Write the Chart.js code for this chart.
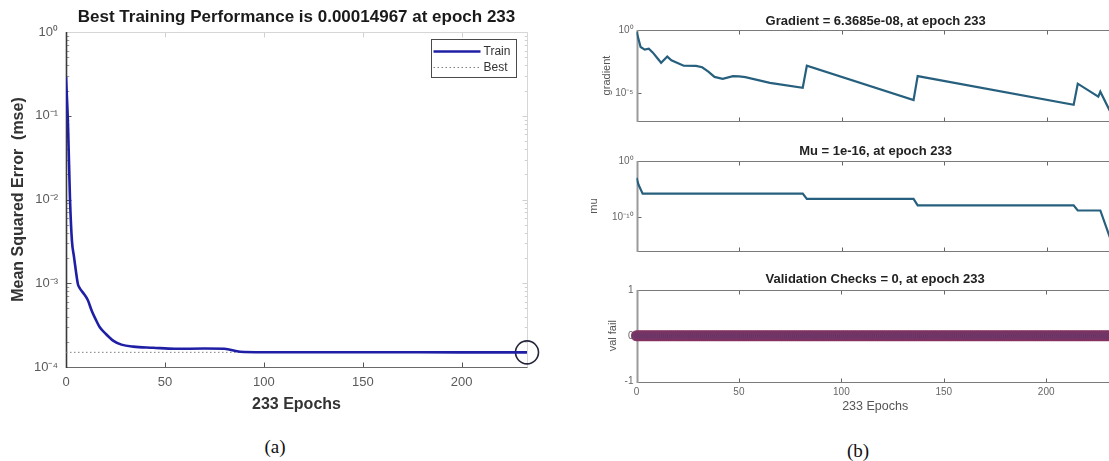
<!DOCTYPE html>
<html>
<head>
<meta charset="utf-8">
<script src="https://cdn.jsdelivr.net/npm/chart.js@4.4.1/dist/chart.umd.min.js"></script>
<style>
html,body{margin:0;padding:0;width:1109px;height:461px;overflow:hidden;background:#fff;}
#wrap{position:relative;width:1109px;height:461px;overflow:hidden;background:#fff;}
canvas{position:absolute;}
.cap{position:absolute;font-family:"Liberation Serif","Times New Roman",serif;font-size:19px;color:#111;transform:translate(-50%,-50%);white-space:nowrap;}
</style>
</head>
<body>
<div id="wrap">
<canvas id="perf" width="545" height="425" style="left:0;top:0"></canvas>
<canvas id="grad" width="560" height="130" style="left:560px;top:0"></canvas>
<canvas id="mu" width="560" height="130" style="left:560px;top:130px"></canvas>
<canvas id="val" width="560" height="165" style="left:560px;top:260px"></canvas>
<div class="cap" style="left:275px;top:447px">(a)</div>
<div class="cap" style="left:858px;top:451px">(b)</div>
</div>
<script>
// ---------------- data ----------------
const totalEpochs = 233;
const epochTicks = [0, 50, 100, 150, 200];

// (a) training performance
const mseEpochs = [0,1,2,3,4,5,6,7,9,11,13,15,17,20,24,28,34,44,55,70,80,88,100,150,200,233];
const mseValues = [0.29,0.08,0.0105,0.0032,0.0021,0.0014,0.00098,0.00087,0.00075,0.00063,0.00047,0.00037,0.0003,0.00025,0.000205,0.000185,0.000175,0.00017,0.000165,0.000166,0.000165,0.000152,0.00015,0.0001498,0.0001497,0.00014967];
const bestEpoch = 233;
const bestPerf = 0.00014967;
const mseTickValues = [1e-4, 1e-3, 1e-2, 1e-1, 1];
const mseTickLabels = ['10⁻⁴', '10⁻³', '10⁻²', '10⁻¹', '10⁰'];

// (b) gradient
const gradEpochs = [0,2,4,6,8,10,12,15,17,20,23,29,32,35,38,42,47,50,53,65,81,83,135,137,213,215,225,226,233];
const gradValues = [0.74,0.045,0.028,0.033,0.016,0.0063,0.0025,0.0078,0.004,0.0024,0.00145,0.0014,0.0011,5e-4,1.9e-4,1.35e-4,2.2e-4,2.1e-4,1.8e-4,6.3e-5,2.6e-5,1.45e-3,2.8e-6,2.2e-4,1.15e-6,5.5e-5,5.1e-6,1.26e-5,6.3685e-8];
const gradMin = 6.3685e-8, gradMax = 1;
const gradTickValues = [1e-5, 1];
const gradTickLabels = ['10⁻⁵', '10⁰'];

// (b) mu
const muEpochs = [0,1,3,81,83,135,137,213,215,226,233];
const muValues = [1e-3,6e-5,1.6e-6,1.6e-6,1.8e-7,1.8e-7,1.3e-8,1.3e-8,1.6e-9,1.6e-9,1e-16];
const muMin = 1e-16, muMax = 1;
const muTickValues = [1e-10, 1];
const muTickLabels = ['10⁻¹⁰', '10⁰'];

// (b) validation checks
const valEpochs = [
0,1,2,3,4,5,6,7,8,9,10,11,12,13,14,15,16,17,18,19,
20,21,22,23,24,25,26,27,28,29,30,31,32,33,34,35,36,37,38,39,
40,41,42,43,44,45,46,47,48,49,50,51,52,53,54,55,56,57,58,59,
60,61,62,63,64,65,66,67,68,69,70,71,72,73,74,75,76,77,78,79,
80,81,82,83,84,85,86,87,88,89,90,91,92,93,94,95,96,97,98,99,
100,101,102,103,104,105,106,107,108,109,110,111,112,113,114,115,116,117,118,119,
120,121,122,123,124,125,126,127,128,129,130,131,132,133,134,135,136,137,138,139,
140,141,142,143,144,145,146,147,148,149,150,151,152,153,154,155,156,157,158,159,
160,161,162,163,164,165,166,167,168,169,170,171,172,173,174,175,176,177,178,179,
180,181,182,183,184,185,186,187,188,189,190,191,192,193,194,195,196,197,198,199,
200,201,202,203,204,205,206,207,208,209,210,211,212,213,214,215,216,217,218,219,
220,221,222,223,224,225,226,227,228,229,230,231,232,233];
const valFails = [
0,0,0,0,0,0,0,0,0,0,0,0,0,0,0,0,0,0,0,0,
0,0,0,0,0,0,0,0,0,0,0,0,0,0,0,0,0,0,0,0,
0,0,0,0,0,0,0,0,0,0,0,0,0,0,0,0,0,0,0,0,
0,0,0,0,0,0,0,0,0,0,0,0,0,0,0,0,0,0,0,0,
0,0,0,0,0,0,0,0,0,0,0,0,0,0,0,0,0,0,0,0,
0,0,0,0,0,0,0,0,0,0,0,0,0,0,0,0,0,0,0,0,
0,0,0,0,0,0,0,0,0,0,0,0,0,0,0,0,0,0,0,0,
0,0,0,0,0,0,0,0,0,0,0,0,0,0,0,0,0,0,0,0,
0,0,0,0,0,0,0,0,0,0,0,0,0,0,0,0,0,0,0,0,
0,0,0,0,0,0,0,0,0,0,0,0,0,0,0,0,0,0,0,0,
0,0,0,0,0,0,0,0,0,0,0,0,0,0,0,0,0,0,0,0,
0,0,0,0,0,0,0,0,0,0,0,0,0,0];
const valTickValues = [-1, 0, 1];
const valTickLabels = ['-1', '0', '1'];

// ---------------- helpers ----------------
const FONT = '"Liberation Sans", Arial, Helvetica, sans-serif';
const pts = (xs, ys) => xs.map((x, i) => ({x: x, y: ys[i]}));
const fixTicks = vals => (s => { s.ticks = vals.map(v => ({value: v})); });
const labelFrom = labels => ((v, i) => labels[i]);

const matlabAxes = {
  id: 'matlabAxes',
  beforeDatasetsDraw(chart, args, o) {
    const ctx = chart.ctx;
    const ca = chart.chartArea;
    const L = Math.round(ca.left) + 0.5, R = Math.round(ca.right) + 0.5;
    const T = Math.round(ca.top) + 0.5, B = Math.round(ca.bottom) + 0.5;
    const xs = chart.scales.x, ys = chart.scales.y;
    const line = (x1, y1, x2, y2, c, w) => {
      ctx.beginPath(); ctx.strokeStyle = c; ctx.lineWidth = w;
      ctx.moveTo(x1, y1); ctx.lineTo(x2, y2); ctx.stroke();
    };
    ctx.save();
    const tl = o.tickLen;
    xs.ticks.forEach(t => {
      const px = Math.round(xs.getPixelForValue(t.value)) + 0.5;
      line(px, B, px, B - tl, o.tickColor, 1);
      line(px, T, px, T + tl, o.farTickColor, 1);
    });
    ys.ticks.forEach(t => {
      const py = Math.round(ys.getPixelForValue(t.value)) + 0.5;
      line(L, py, L + tl, py, o.tickColor, 1);
      line(R, py, R - tl, py, o.farTickColor, 1);
    });
    if (o.minor && ys.type === 'logarithmic') {
      const e0 = Math.floor(Math.log10(ys.min)), e1 = Math.ceil(Math.log10(ys.max));
      for (let e = e0; e < e1; e++) {
        for (let m = 2; m <= 9; m++) {
          const v = m * Math.pow(10, e);
          if (v <= ys.min || v >= ys.max) continue;
          const py = Math.round(ys.getPixelForValue(v)) + 0.5;
          line(L, py, L + tl * 0.55, py, o.minorColor, 1);
          line(R, py, R - tl * 0.55, py, o.farTickColor, 1);
        }
      }
    }
    line(L, T, R, T, o.topColor, o.topWidth);
    line(R, T, R, B, o.rightColor, o.rightWidth);
    line(L, B, R, B, o.bottomColor, o.bottomWidth);
    line(L, T - 0.5, L, B + 0.5, o.leftColor, o.leftWidth);
    ctx.restore();
  }
};

const boxLegend = {
  id: 'boxLegend',
  afterDatasetsDraw(chart, args, o) {
    if (!o || !o.display) return;
    const ctx = chart.ctx, ca = chart.chartArea;
    const items = chart.data.datasets.filter(d => d.label && !d.hideInLegend);
    const x1 = Math.round(ca.right - o.right - o.width) + 0.5;
    const y1 = Math.round(ca.top + o.top) + 0.5;
    ctx.save();
    ctx.fillStyle = '#fff';
    ctx.fillRect(x1, y1, o.width, o.height);
    ctx.strokeStyle = o.borderColor; ctx.lineWidth = 1;
    ctx.strokeRect(x1, y1, o.width, o.height);
    items.forEach((d, i) => {
      const cy = Math.round(y1 + o.padTop + i * o.rowH) + 0.5;
      ctx.beginPath();
      ctx.setLineDash(d.borderDash || []);
      ctx.strokeStyle = d.borderColor; ctx.lineWidth = d.borderWidth;
      ctx.moveTo(x1 + o.sampleX0, cy); ctx.lineTo(x1 + o.sampleX1, cy); ctx.stroke();
      ctx.setLineDash([]);
      ctx.fillStyle = o.color;
      ctx.font = o.fontSize + 'px ' + FONT;
      ctx.textBaseline = 'middle'; ctx.textAlign = 'left';
      ctx.fillText(d.label, x1 + o.textX, cy);
    });
    ctx.restore();
  }
};

const baseOpts = {responsive: false, animation: false, devicePixelRatio: 1, events: []};

// ---------------- (a) ----------------
new Chart(document.getElementById('perf'), {
  type: 'line',
  data: {
    datasets: [
      {label: 'Train', data: pts(mseEpochs, mseValues), borderColor: '#1f1fa6', borderWidth: 2.6,
       pointRadius: 0, cubicInterpolationMode: 'monotone', fill: false},
      {label: 'Best', data: [{x: 0, y: bestPerf}, {x: totalEpochs, y: bestPerf}], borderColor: '#7d7d7d',
       borderWidth: 1, borderDash: [1.5, 2.5], pointRadius: 0, fill: false},
      {label: 'best point', hideInLegend: true, data: [{x: bestEpoch, y: bestPerf}], showLine: false,
       pointRadius: 11.5, pointBorderColor: '#25253c', pointBorderWidth: 1.6,
       pointBackgroundColor: 'rgba(0,0,0,0)', clip: false}
    ]
  },
  options: Object.assign({}, baseOpts, {
    layout: {padding: {left: 0, right: 18, top: 0, bottom: 0}},
    plugins: {
      legend: {display: false}, tooltip: {enabled: false},
      title: {display: true, fullSize: false, text: 'Best Training Performance is 0.00014967 at epoch 233',
              color: '#1a1a1a', font: {family: FONT, size: 17, weight: 'bold'}, padding: {top: 6.8, bottom: 4.8}},
      matlabAxes: {tickLen: 5, minor: true, tickColor: '#555', minorColor: '#999', farTickColor: '#d0d0d0',
                   topColor: '#d6d6d6', topWidth: 1, rightColor: '#d6d6d6', rightWidth: 1,
                   bottomColor: '#6a6a6a', bottomWidth: 1.2, leftColor: '#3a3a3a', leftWidth: 1.6},
      boxLegend: {display: true, right: 11, top: 7, width: 85, height: 38, padTop: 11, rowH: 16,
                  sampleX0: 2, sampleX1: 49, textX: 52, fontSize: 12, color: '#333', borderColor: '#4a4a4a'}
    },
    scales: {
      x: {type: 'linear', min: 0, max: totalEpochs,
          afterBuildTicks: fixTicks(epochTicks), afterFit: s => { s.height = 58; },
          grid: {display: false, drawTicks: false}, border: {display: false},
          ticks: {autoSkip: false, maxRotation: 0, padding: 8, color: '#5a5a5a', font: {family: FONT, size: 13}},
          title: {display: true, text: '233 Epochs', color: '#333', font: {family: FONT, size: 16, weight: 'bold'},
                  padding: {top: 0, bottom: 10.4}}},
      y: {type: 'logarithmic', min: 1e-4, max: 1,
          afterBuildTicks: fixTicks(mseTickValues), afterFit: s => { s.width = 66; },
          grid: {display: false, drawTicks: false}, border: {display: false},
          ticks: {autoSkip: false, padding: 8, color: '#5a5a5a', font: {family: FONT, size: 13},
                  callback: labelFrom(mseTickLabels)},
          title: {display: true, text: 'Mean Squared Error  (mse)', color: '#333',
                  font: {family: FONT, size: 16, weight: 'bold'}, padding: {top: 9, bottom: 0}}}
    }
  }),
  plugins: [matlabAxes, boxLegend]
});

// ---------------- (b) ----------------
const rightAxes = {tickLen: 4, minor: false, tickColor: '#666', farTickColor: '#666',
                   topColor: '#7a7a7a', topWidth: 1, rightColor: '#7a7a7a', rightWidth: 1,
                   bottomColor: '#7a7a7a', bottomWidth: 1, leftColor: '#9a9a9a', leftWidth: 2};

function rightChart(id, cfg) {
  return new Chart(document.getElementById(id), {
    type: 'line',
    data: {datasets: cfg.datasets},
    options: Object.assign({}, baseOpts, {
      layout: {padding: {left: 0, right: 5.3, top: 0, bottom: 0}},
      plugins: {
        legend: {display: false}, tooltip: {enabled: false},
        title: {display: true, fullSize: false, text: cfg.title, color: '#222',
                font: {family: FONT, size: 13, weight: 'bold'}, padding: cfg.titlePad},
        matlabAxes: rightAxes
      },
      scales: {
        x: {type: 'linear', min: 0, max: totalEpochs,
            afterBuildTicks: fixTicks(epochTicks), afterFit: s => { s.height = cfg.xHeight; },
            grid: {display: false, drawTicks: false}, border: {display: false},
            ticks: {display: cfg.xLabels, autoSkip: false, maxRotation: 0, padding: 4.5, color: '#666',
                    font: {family: FONT, size: 10}},
            title: {display: cfg.xLabels, text: '233 Epochs', color: '#555',
                    font: {family: FONT, size: 12.5}, padding: {top: 0, bottom: 10.5}}},
        y: Object.assign({
            afterBuildTicks: fixTicks(cfg.yTicks), afterFit: s => { s.width = 76.5; },
            grid: {display: false, drawTicks: false}, border: {display: false},
            ticks: {autoSkip: false, padding: 3, color: '#666', font: {family: FONT, size: 10},
                    callback: labelFrom(cfg.yLabels)},
            title: {display: true, text: cfg.yTitle, color: '#555', font: {family: FONT, size: 11},
                    padding: {top: cfg.yTitlePad, bottom: 0}}}, cfg.yScale)
      }
    }),
    plugins: [matlabAxes]
  });
}

rightChart('grad', {
  title: 'Gradient = 6.3685e-08, at epoch 233', titlePad: {top: 13.7, bottom: 0.7}, xHeight: 7, xLabels: false,
  yScale: {type: 'logarithmic', min: gradMin, max: gradMax}, yTicks: gradTickValues, yLabels: gradTickLabels,
  yTitle: 'gradient', yTitlePad: 40.4,
  datasets: [{label: 'gradient', data: pts(gradEpochs, gradValues), borderColor: '#27607e', borderWidth: 2.2,
              pointRadius: 0, tension: 0, fill: false}]
});

rightChart('mu', {
  title: 'Mu = 1e-16, at epoch 233', titlePad: {top: 13.2, bottom: 2.2}, xHeight: 8, xLabels: false,
  yScale: {type: 'logarithmic', min: muMin, max: muMax}, yTicks: muTickValues, yLabels: muTickLabels,
  yTitle: 'mu', yTitlePad: 27.4,
  datasets: [{label: 'mu', data: pts(muEpochs, muValues), borderColor: '#27607e', borderWidth: 2.2,
              pointRadius: 0, tension: 0, fill: false}]
});

rightChart('val', {
  title: 'Validation Checks = 0, at epoch 233', titlePad: {top: 11.5, bottom: 2.9}, xHeight: 43.5, xLabels: true,
  yScale: {type: 'linear', min: -1, max: 1}, yTicks: valTickValues, yLabels: valTickLabels,
  yTitle: 'val fail', yTitlePad: 46.4,
  datasets: [{label: 'val fail', data: pts(valEpochs, valFails), borderColor: '#2a3c96', borderWidth: 1.5,
              pointRadius: 5, pointBorderWidth: 1.2, pointBorderColor: 'rgba(135,50,95,0.9)',
              pointBackgroundColor: 'rgba(82,60,112,0.9)', tension: 0, fill: false, clip: false}]
});
</script>
</body>
</html>
